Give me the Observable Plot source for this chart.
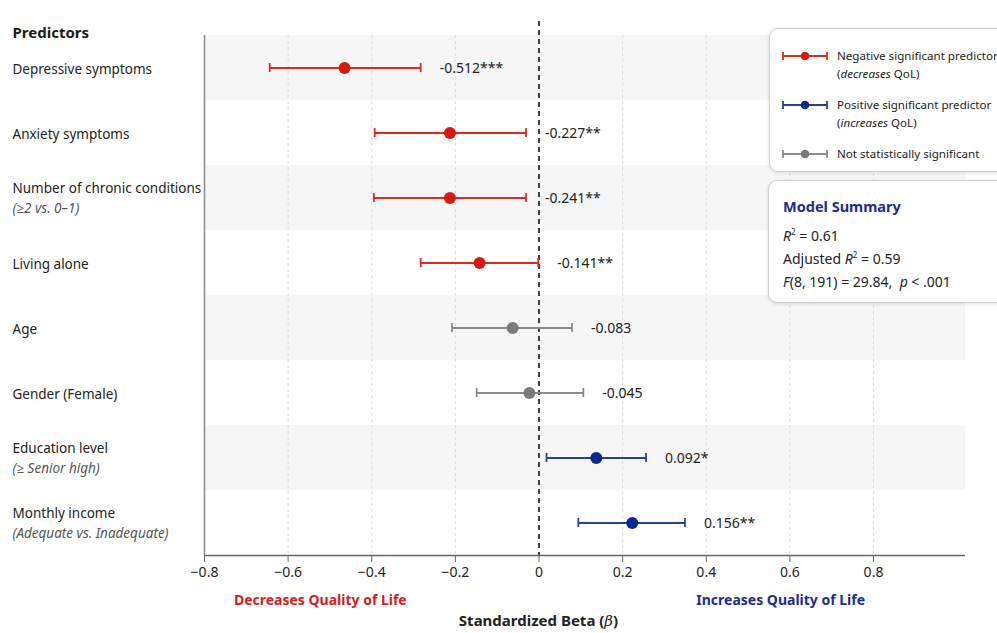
<!DOCTYPE html>
<html>
<head>
<meta charset="utf-8">
<script src="https://cdn.jsdelivr.net/npm/d3@7"></script>
<script src="https://cdn.jsdelivr.net/npm/@observablehq/plot@0.6"></script>
<style>
  html, body { margin: 0; padding: 0; background: #fff; overflow: hidden; }
  body { font-family: "Noto Sans", "Open Sans", sans-serif; color: #222; }
  #wrap { position: relative; width: 997px; height: 633px; overflow: hidden; }
  #chart { position: absolute; left: 0; top: 0; }
  .box { position: absolute; background: #fff; border: 1px solid #cfcfcf; border-radius: 9px;
         box-shadow: 0 1px 4px rgba(0,0,0,0.12); box-sizing: border-box; }
  #legend { left: 769px; top: 28px; width: 250px; height: 144px; }
  .lg { position: absolute; left: 12px; display: flex; align-items: flex-start; font-size: 11.6px; line-height: 18px; color: #222; white-space: nowrap; }
  .lg svg { margin-right: 9px; margin-top: 3px; flex: none; }
  #summary { left: 768px; top: 180px; width: 250px; height: 123px; }
  #summary .title { position: absolute; left: 14px; top: 15px; font-weight: 700; font-size: 14.5px; color: #1b2d8f; }
  #summary .ln { position: absolute; left: 14px; font-size: 14px; color: #222; }
  #xtitle { position: absolute; left: 0; width: 1077px; top: 610px; text-align: center; font-weight: 700; font-size: 15px; color: #222; }
</style>
</head>
<body>
<div id="wrap">
  <div id="chart"></div>
  <div id="legend" class="box"></div>
  <div id="summary" class="box">
    <div class="title">Model Summary</div>
    <div class="ln" style="top:45px"><i>R</i><sup style="font-size:8px">2</sup> = 0.61</div>
    <div class="ln" style="top:68px">Adjusted <i>R</i><sup style="font-size:8px">2</sup> = 0.59</div>
    <div class="ln" style="top:91px"><i>F</i>(8, 191) = 29.84,&nbsp; <i>p</i> &lt; .001</div>
  </div>
  <div id="xtitle">Standardized Beta (<i style="font-family:'DejaVu Serif',serif;font-weight:400">β</i>)</div>
</div>
<script>
// ---- data ----
const predictors = [
  "Depressive symptoms",
  "Anxiety symptoms",
  "Number of chronic conditions",
  "Living alone",
  "Age",
  "Gender (Female)",
  "Education level",
  "Monthly income"
];
const subLabels = ["", "", "(≥2 vs. 0–1)", "", "", "", "(≥ Senior high)", "(Adequate vs. Inadequate)"];
const beta   = [-0.465, -0.213, -0.213, -0.142, -0.063, -0.023, 0.137, 0.223];
const ciLow  = [-0.644, -0.393, -0.395, -0.283, -0.208, -0.149, 0.018, 0.094];
const ciHigh = [-0.283, -0.031, -0.031, -0.002, 0.079, 0.106, 0.256, 0.349];
const valueLabels = ["-0.512***", "-0.227**", "-0.241**", "-0.141**", "-0.083", "-0.045", "0.092*", "0.156**"];
const effect = ["neg", "neg", "neg", "neg", "ns", "ns", "pos", "pos"];
const xTicks = [-0.8, -0.6, -0.4, -0.2, 0, 0.2, 0.4, 0.6, 0.8];
const xDomain = [-0.8, 1.02];
const directionLabels = ["Decreases Quality of Life", "Increases Quality of Life"];
const directionX = [-0.523, 0.578];
const legendItems = [
  {key: "neg", line1: "Negative significant predictor", line2: "(<i>decreases</i> QoL)"},
  {key: "pos", line1: "Positive significant predictor", line2: "(<i>increases</i> QoL)"},
  {key: "ns",  line1: "Not statistically significant", line2: ""}
];

const lineColor = {neg: "#de2a1f", pos: "#2a3c9e", ns: "#8a8a8a"};
const dotColor  = {neg: "#d51a0f", pos: "#0b2791", ns: "#7a7a7a"};
const textColor = {neg: "#d41c22", pos: "#1b2d8f"};

const rows = predictors.map((p, i) => ({
  idx: i, name: p, sub: subLabels[i], beta: beta[i], lo: ciLow[i], hi: ciHigh[i],
  label: valueLabels[i], effect: effect[i]
}));
const shaded = rows.filter(r => r.idx % 2 === 0);
const dirs = directionLabels.map((t, i) => ({t, x: directionX[i], c: i === 0 ? textColor.neg : textColor.pos}));
const capH = 0.07;

const chart = Plot.plot({
  width: 997,
  height: 633,
  marginLeft: 204,
  marginRight: 32,
  marginTop: 35,
  marginBottom: 78,
  style: {fontFamily: "'Noto Sans', 'Open Sans', sans-serif", background: "transparent"},
  x: {domain: xDomain},
  y: {domain: [-0.5, predictors.length - 0.5], reverse: true, axis: null},
  marks: [
    Plot.rect(shaded, {x1: () => xDomain[0], x2: () => xDomain[1], y1: d => d.idx - 0.5, y2: d => d.idx + 0.5, fill: "#f6f6f6"}),
    Plot.ruleX(xTicks.filter(t => t !== 0 && t !== xDomain[0]), {stroke: "#dcdcdc", strokeDasharray: "3,3", strokeWidth: 1}),
    Plot.ruleX([0], {stroke: "#111", strokeDasharray: "5,4", strokeWidth: 1.6, insetTop: -14}),
    Plot.ruleX([xDomain[0]], {stroke: "#8a8a8a", strokeWidth: 1.5}),
    Plot.ruleY([predictors.length - 0.5], {stroke: "#666", strokeWidth: 1.5}),
    Plot.axisX(xTicks, {anchor: "bottom", tickSize: 7, tickPadding: 5, fontSize: 14, stroke: "#666", color: "#222",
      tickFormat: d => d === 0 ? "0" : d3.format(".1f")(d), label: null}),
    // error bars
    Plot.link(rows, {x1: "lo", x2: "hi", y1: "idx", y2: "idx", stroke: d => lineColor[d.effect], strokeWidth: 1.8}),
    Plot.ruleX(rows, {x: "lo", y1: d => d.idx - capH, y2: d => d.idx + capH, stroke: d => lineColor[d.effect], strokeWidth: 1.8}),
    Plot.ruleX(rows, {x: "hi", y1: d => d.idx - capH, y2: d => d.idx + capH, stroke: d => lineColor[d.effect], strokeWidth: 1.8}),
    Plot.dot(rows, {x: "beta", y: "idx", r: 6, fill: d => dotColor[d.effect], stroke: "none"}),
    // value labels
    Plot.text(rows, {x: "hi", y: "idx", text: "label", textAnchor: "start", dx: 19, dy: 1, fontSize: 14, fill: "#222"}),
    // predictor labels
    Plot.text(rows.filter(r => !r.sub), {y: "idx", frameAnchor: "left", text: "name", textAnchor: "start", dx: -192,
      dy: 2, fontSize: 13.5, fill: "#222"}),
    Plot.text(rows.filter(r => r.sub), {y: "idx", frameAnchor: "left", text: "name", textAnchor: "start", dx: -192,
      dy: -9, fontSize: 13.5, fill: "#222"}),
    Plot.text(rows.filter(r => r.sub), {y: "idx", frameAnchor: "left", text: "sub", textAnchor: "start", dx: -192,
      dy: 11, fontSize: 13.5, fontStyle: "italic", fill: "#555"}),
    Plot.text(["Predictors"], {frameAnchor: "top-left", text: d => d, textAnchor: "start", dx: -192, dy: -8,
      fontSize: 15, fontWeight: "bold", fill: "#1a1a1a"}),
    // direction annotations
    Plot.text(dirs, {x: "x", frameAnchor: "bottom", text: "t", dy: 49, fontSize: 14, fontWeight: "bold", fill: "c"})
  ]
});
document.getElementById("chart").appendChild(chart);

// legend
const lg = document.getElementById("legend");
legendItems.forEach((it, i) => {
  const div = document.createElement("div");
  div.className = "lg";
  div.style.top = (18 + i * 49) + "px";
  const c = lineColor[it.key], dc = dotColor[it.key];
  div.innerHTML = `<svg width="46" height="12"><line x1="1" x2="45" y1="6" y2="6" stroke="${c}" stroke-width="1.8"/>
    <line x1="1" x2="1" y1="2" y2="10" stroke="${c}" stroke-width="1.8"/><line x1="45" x2="45" y1="2" y2="10" stroke="${c}" stroke-width="1.8"/>
    <circle cx="23" cy="6" r="4.3" fill="${dc}"/></svg>
    <div>${it.line1}${it.line2 ? "<br>" + it.line2 : ""}</div>`;
  lg.appendChild(div);
});
</script>
</body>
</html>
